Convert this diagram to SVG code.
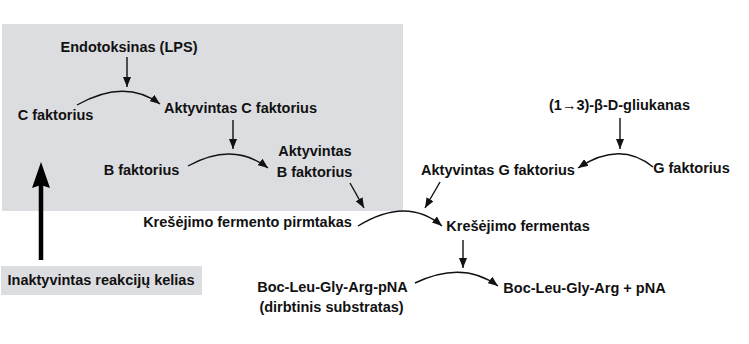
<svg xmlns="http://www.w3.org/2000/svg" width="749" height="344" viewBox="0 0 749 344">
<defs>
<style>
.t{font-family:"Liberation Sans",Arial,sans-serif;font-weight:bold;font-size:14.5px;fill:#111;text-anchor:middle}
.c{fill:none;stroke:#111;stroke-width:1.4}
.bg{fill:#dcdde0}
</style>
<marker id="ah" viewBox="0 0 10 8" refX="10" refY="4" markerWidth="10" markerHeight="8" markerUnits="userSpaceOnUse" orient="auto">
<path d="M0,0 L10,4 L0,8 Z" fill="#111"/>
</marker>
</defs>
<rect class="bg" x="2" y="24" width="401" height="187"/>
<g id="inactive-label">
<rect class="bg" x="1" y="266" width="201" height="29"/>
<text class="t" x="101" y="285">Inaktyvintas reakcijų kelias</text>
</g>
<g id="n-lps"><text class="t" x="129" y="52">Endotoksinas (LPS)</text></g>
<g id="n-c"><text class="t" x="55.5" y="120">C faktorius</text></g>
<g id="n-ac"><text class="t" x="240.5" y="113">Aktyvintas C faktorius</text></g>
<g id="n-b"><text class="t" x="141.5" y="175">B faktorius</text></g>
<g id="n-ab"><text class="t" x="315" y="156">Aktyvintas</text><text class="t" x="314.5" y="177">B faktorius</text></g>
<g id="n-pre"><text class="t" x="247.5" y="227">Krešėjimo fermento pirmtakas</text></g>
<g id="n-enz"><text class="t" x="518" y="231">Krešėjimo fermentas</text></g>
<g id="n-glu"><text class="t" x="619.5" y="110">(1→3)-β-D-gliukanas</text></g>
<g id="n-g"><text class="t" x="691.5" y="173">G faktorius</text></g>
<g id="n-ag"><text class="t" x="498" y="175">Aktyvintas G faktorius</text></g>
<g id="n-sub"><text class="t" x="332.5" y="292">Boc-Leu-Gly-Arg-pNA</text><text class="t" x="331.5" y="312">(dirbtinis substratas)</text></g>
<g id="n-prod"><text class="t" x="584.5" y="293">Boc-Leu-Gly-Arg + pNA</text></g>
<g id="connectors">
<line x1="41" y1="260" x2="41" y2="184" stroke="#000" stroke-width="4.5"/>
<path d="M41,162 L50,188 L41,185 L32,188 Z" fill="#000"/>
<line class="c" x1="127" y1="57" x2="127" y2="87" marker-end="url(#ah)"/>
<path class="c" d="M77,105 Q125,78 160,104" marker-end="url(#ah)"/>
<line class="c" x1="233" y1="120" x2="233" y2="149" marker-end="url(#ah)"/>
<path class="c" d="M188,166 Q233,141 268,168" marker-end="url(#ah)"/>
<line class="c" x1="350" y1="183" x2="364" y2="208" marker-end="url(#ah)"/>
<path class="c" d="M358,226 Q407,196 442,226" marker-end="url(#ah)"/>
<line class="c" x1="620" y1="118" x2="620" y2="149" marker-end="url(#ah)"/>
<path class="c" d="M653,167 Q620,140 578,168" marker-end="url(#ah)"/>
<line class="c" x1="440" y1="182" x2="425" y2="208" marker-end="url(#ah)"/>
<line class="c" x1="463" y1="240" x2="463" y2="268" marker-end="url(#ah)"/>
<path class="c" d="M415,283 Q463,260 498,286" marker-end="url(#ah)"/>
</g>
</svg>
